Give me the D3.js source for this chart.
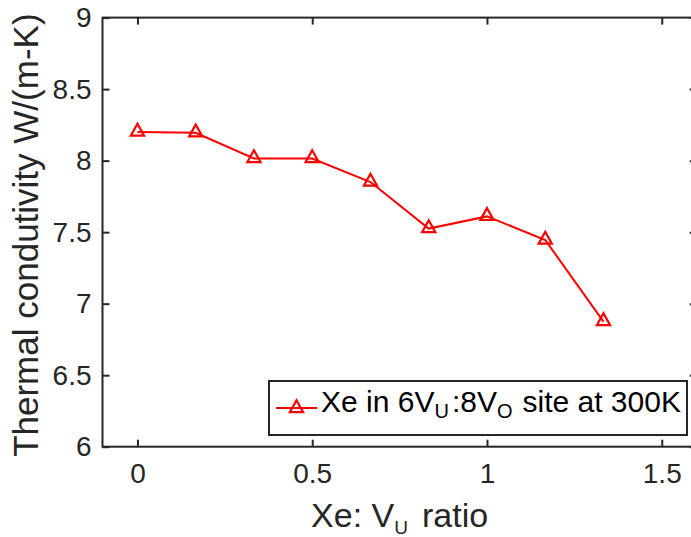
<!DOCTYPE html>
<html>
<head>
<meta charset="utf-8">
<script src="https://cdn.jsdelivr.net/npm/d3@7"></script>
<style>
  html, body { margin: 0; padding: 0; background: #fff; }
  svg { display: block; font-family: "Liberation Sans", Arial, Helvetica, sans-serif; }
</style>
</head>
<body>
<svg id="chart" width="691" height="537"></svg>
<script>
// Xe : V_U ratio and the thermal conductivity computed at each loading
const ratios = [0, 0.1667, 0.3333, 0.5, 0.6667, 0.8333, 1.0, 1.1667, 1.3333];
const conductivity = [8.20, 8.195, 8.015, 8.015, 7.85, 7.525, 7.61, 7.445, 6.875];
const xTicks = [0, 0.5, 1, 1.5];
const yTicks = [6, 6.5, 7, 7.5, 8, 8.5, 9];
const xDomain = [-0.1, 1.6];
const yDomain = [6, 9];

const ink = "#262626";
const red = "#ff0000";

const svg = d3.select("#chart");
const plot = { left: 102.5, top: 17.6, right: 696.7, bottom: 446.7 };

const x = d3.scaleLinear().domain(xDomain).range([plot.left, plot.right]);
const y = d3.scaleLinear().domain(yDomain).range([plot.bottom, plot.top]);

const fmt = d => String(d);

// bottom and top axes, ticks pointing inward
svg.append("g")
  .attr("transform", `translate(0,${plot.bottom})`)
  .call(d3.axisBottom(x).tickValues(xTicks).tickFormat(fmt)
    .tickSizeInner(-7).tickSizeOuter(0).tickPadding(16));
svg.append("g")
  .attr("transform", `translate(0,${plot.top})`)
  .call(d3.axisTop(x).tickValues(xTicks).tickFormat("")
    .tickSizeInner(-7).tickSizeOuter(0));

// left and right axes
svg.append("g")
  .attr("transform", `translate(${plot.left},0)`)
  .call(d3.axisLeft(y).tickValues(yTicks).tickFormat(fmt)
    .tickSizeInner(-7).tickSizeOuter(0).tickPadding(11));
svg.append("g")
  .attr("transform", `translate(${plot.right},0)`)
  .call(d3.axisRight(y).tickValues(yTicks).tickFormat("")
    .tickSizeInner(-7).tickSizeOuter(0));

svg.selectAll(".domain").remove();
svg.selectAll(".tick line").attr("stroke", ink).attr("stroke-width", 2);
svg.selectAll(".tick text").attr("fill", ink).attr("font-size", 28)
  .attr("font-family", "'Liberation Sans', Arial, sans-serif");

// axes box
svg.append("rect")
  .attr("x", plot.left).attr("y", plot.top)
  .attr("width", plot.right - plot.left).attr("height", plot.bottom - plot.top)
  .attr("fill", "none").attr("stroke", ink).attr("stroke-width", 2);

// series
const pts = ratios.map((r, i) => [r, conductivity[i]]);
const line = d3.line().x(d => x(d[0])).y(d => y(d[1]));
svg.append("path")
  .datum(pts)
  .attr("d", line)
  .attr("fill", "none")
  .attr("stroke", red)
  .attr("stroke-width", 2);

// upward triangle marker, anchored near its centroid
const tri = "M0,-8.3L6.6,3.6L-6.6,3.6Z";
svg.append("g").selectAll("path")
  .data(pts)
  .join("path")
  .attr("transform", d => `translate(${x(d[0])},${y(d[1])})`)
  .attr("d", tri)
  .attr("fill", "none")
  .attr("stroke", red)
  .attr("stroke-width", 2.2);

// axis titles
const xl = svg.append("text")
  .attr("x", (plot.left + plot.right) / 2)
  .attr("y", 527)
  .attr("text-anchor", "middle")
  .attr("font-size", 34)
  .attr("fill", ink);
xl.append("tspan").text("Xe: V");
xl.append("tspan").attr("font-size", 19).attr("dy", 7).text("U");
xl.append("tspan").attr("dy", -7).attr("dx", 14).text("ratio");

svg.append("text")
  .attr("transform", `translate(38,${(plot.top + plot.bottom) / 2 + 3}) rotate(-90)`)
  .attr("text-anchor", "middle")
  .attr("font-size", 35)
  .attr("fill", ink)
  .text("Thermal condutivity W/(m-K)");

// legend
const lg = svg.append("g");
lg.append("rect")
  .attr("x", 269).attr("y", 381).attr("width", 418).attr("height", 54)
  .attr("fill", "#fff").attr("stroke", ink).attr("stroke-width", 2);
lg.append("line")
  .attr("x1", 276).attr("x2", 317).attr("y1", 408).attr("y2", 408)
  .attr("stroke", red).attr("stroke-width", 2);
lg.append("path")
  .attr("transform", "translate(296.5,408.5)")
  .attr("d", tri)
  .attr("fill", "none").attr("stroke", red).attr("stroke-width", 2.2);
const lt = lg.append("text")
  .attr("x", 321).attr("y", 412)
  .attr("font-size", 30)
  .attr("fill", "#000");
lt.append("tspan").text("Xe in 6V");
lt.append("tspan").attr("font-size", 20).attr("dy", 6).text("U");
lt.append("tspan").attr("dy", -6).attr("dx", 3).text(":8V");
lt.append("tspan").attr("font-size", 20).attr("dy", 6).text("O");
lt.append("tspan").attr("dy", -6).attr("dx", 10).text("site at 300K");
</script>
</body>
</html>
